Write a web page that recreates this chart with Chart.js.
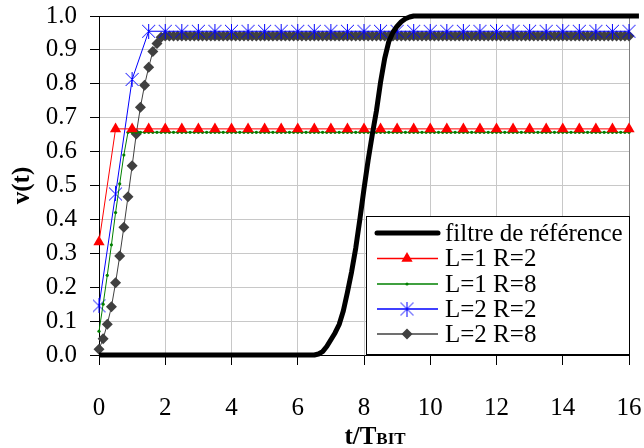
<!DOCTYPE html>
<html><head><meta charset="utf-8">
<script src="https://cdn.jsdelivr.net/npm/chart.js@4/dist/chart.umd.min.js"></script>
<style>html,body{margin:0;padding:0;background:#fff}</style>
</head><body><canvas id="c" width="644" height="448"></canvas>
<script>
// ---- DATA ----
const tFine = [
 0,0.125,0.25,0.375,0.5,0.625,0.75,0.875,
 1,1.125,1.25,1.375,1.5,1.625,1.75,1.875,
 2,2.125,2.25,2.375,2.5,2.625,2.75,2.875,
 3,3.125,3.25,3.375,3.5,3.625,3.75,3.875,
 4,4.125,4.25,4.375,4.5,4.625,4.75,4.875,
 5,5.125,5.25,5.375,5.5,5.625,5.75,5.875,
 6,6.125,6.25,6.375,6.5,6.625,6.75,6.875,
 7,7.125,7.25,7.375,7.5,7.625,7.75,7.875,
 8,8.125,8.25,8.375,8.5,8.625,8.75,8.875,
 9,9.125,9.25,9.375,9.5,9.625,9.75,9.875,
 10,10.125,10.25,10.375,10.5,10.625,10.75,10.875,
 11,11.125,11.25,11.375,11.5,11.625,11.75,11.875,
 12,12.125,12.25,12.375,12.5,12.625,12.75,12.875,
 13,13.125,13.25,13.375,13.5,13.625,13.75,13.875,
 14,14.125,14.25,14.375,14.5,14.625,14.75,14.875,
 15,15.125,15.25,15.375,15.5,15.625,15.75,15.875,
 16,16.125,16.25
];
const tHalf = [0,0.5,1,1.5,2,2.5,3,3.5,4,4.5,5,5.5,6,6.5,7,7.5,8,8.5,9,9.5,10,10.5,11,11.5,12,12.5,13,13.5,14,14.5,15,15.5,16];

const refT = [0,6.5,6.625,6.75,6.875,7,7.125,7.25,7.375,7.5,7.625,7.75,7.875,8,8.125,8.25,8.375,8.5,8.625,8.75,8.875,9,9.125,9.25,9.375,9.5,16.3];
const refV = [0,0,0.003,0.01,0.025,0.045,0.065,0.09,0.13,0.185,0.245,0.315,0.4,0.49,0.575,0.65,0.72,0.805,0.875,0.925,0.952,0.97,0.983,0.992,0.997,1,1];

const l1r2 = [0.333,
 0.667,0.667,0.667,0.667,0.667,0.667,0.667,0.667,
 0.667,0.667,0.667,0.667,0.667,0.667,0.667,0.667,
 0.667,0.667,0.667,0.667,0.667,0.667,0.667,0.667,
 0.667,0.667,0.667,0.667,0.667,0.667,0.667,0.667];

const l2r2 = [0.145,0.475,0.813,
 0.955,0.955,0.955,0.955,0.955,0.955,0.955,0.955,0.955,0.955,
 0.955,0.955,0.955,0.955,0.955,0.955,0.955,0.955,0.955,0.955,
 0.955,0.955,0.955,0.955,0.955,0.955,0.955,0.955,0.955,0.955];

const l1r8 = [
 0.07,0.15,0.235,0.325,0.42,0.505,0.59,0.657,
 0.657,0.657,0.657,0.657,0.657,0.657,0.657,0.657,
 0.657,0.657,0.657,0.657,0.657,0.657,0.657,0.657,
 0.657,0.657,0.657,0.657,0.657,0.657,0.657,0.657,
 0.657,0.657,0.657,0.657,0.657,0.657,0.657,0.657,
 0.657,0.657,0.657,0.657,0.657,0.657,0.657,0.657,
 0.657,0.657,0.657,0.657,0.657,0.657,0.657,0.657,
 0.657,0.657,0.657,0.657,0.657,0.657,0.657,0.657,
 0.657,0.657,0.657,0.657,0.657,0.657,0.657,0.657,
 0.657,0.657,0.657,0.657,0.657,0.657,0.657,0.657,
 0.657,0.657,0.657,0.657,0.657,0.657,0.657,0.657,
 0.657,0.657,0.657,0.657,0.657,0.657,0.657,0.657,
 0.657,0.657,0.657,0.657,0.657,0.657,0.657,0.657,
 0.657,0.657,0.657,0.657,0.657,0.657,0.657,0.657,
 0.657,0.657,0.657,0.657,0.657,0.657,0.657,0.657,
 0.657,0.657,0.657,0.657,0.657,0.657,0.657,0.657,
 0.657,0.657,0.657
];

const l2r8 = [
 0.017,0.048,0.091,0.142,0.213,0.292,0.377,0.467,
 0.558,0.652,0.731,0.796,0.849,0.895,0.919,0.937,
 0.941,0.941,0.941,0.941,0.941,0.941,0.941,0.941,
 0.941,0.941,0.941,0.941,0.941,0.941,0.941,0.941,
 0.941,0.941,0.941,0.941,0.941,0.941,0.941,0.941,
 0.941,0.941,0.941,0.941,0.941,0.941,0.941,0.941,
 0.941,0.941,0.941,0.941,0.941,0.941,0.941,0.941,
 0.941,0.941,0.941,0.941,0.941,0.941,0.941,0.941,
 0.941,0.941,0.941,0.941,0.941,0.941,0.941,0.941,
 0.941,0.941,0.941,0.941,0.941,0.941,0.941,0.941,
 0.941,0.941,0.941,0.941,0.941,0.941,0.941,0.941,
 0.941,0.941,0.941,0.941,0.941,0.941,0.941,0.941,
 0.941,0.941,0.941,0.941,0.941,0.941,0.941,0.941,
 0.941,0.941,0.941,0.941,0.941,0.941,0.941,0.941,
 0.941,0.941,0.941,0.941,0.941,0.941,0.941,0.941,
 0.941,0.941,0.941,0.941,0.941,0.941,0.941,0.941,
 0.941,0.941,0.941
];

const seriesNames = ['filtre de référence','L=1 R=2','L=1 R=8','L=2 R=2','L=2 R=8'];
const xTitleMain = 't/T';
const xTitleSub = 'BIT';
const yTitle = 'v(t)';

// ---- STYLE ----
const FONT = '"Liberation Serif", "Times New Roman", serif';
function starImg(){
  const c=document.createElement('canvas'); c.width=15; c.height=15;
  const g=c.getContext('2d'); g.strokeStyle='#0000ff'; g.lineWidth=1;
  g.beginPath(); g.moveTo(1,1); g.lineTo(14,14); g.moveTo(14,1); g.lineTo(1,14);
  g.moveTo(7.5,0); g.lineTo(7.5,15); g.stroke(); return c;
}
const STAR = starImg();
const pts = (xs, ys) => xs.map((x,i)=>({x:x, y:ys[i]}));
const CLIP = {left:6, top:10, right:14, bottom:6};

const datasets = [
  {label:seriesNames[0], data:pts(refT,refV), borderColor:'#000', borderWidth:5, pointRadius:0, tension:0, clip:CLIP, borderJoinStyle:'round'},
  {label:seriesNames[1], data:pts(tHalf,l1r2), borderColor:'#ff0000', backgroundColor:'#ff0000', borderWidth:1, pointStyle:'triangle', pointRadius:6.5, pointBorderWidth:0, tension:0, clip:CLIP},
  {label:seriesNames[2], data:pts(tFine,l1r8), borderColor:'#008000', backgroundColor:'#008000', borderWidth:1, pointStyle:'circle', pointRadius:1.6, pointBorderWidth:0, tension:0, clip:CLIP},
  {label:seriesNames[3], data:pts(tHalf,l2r2), borderColor:'#0000ff', backgroundColor:'#0000ff', borderWidth:1, pointStyle:STAR, pointRadius:7, tension:0, clip:CLIP},
  {label:seriesNames[4], data:pts(tFine,l2r8), borderColor:'#404040', backgroundColor:'#404040', borderWidth:1, pointStyle:'rectRot', pointRadius:5.5, pointBorderWidth:0, tension:0, clip:CLIP}
];

const overlay = {
  id:'overlay',
  afterDraw(chart){
    const g = chart.ctx;
    const L=366, T=216, R=630, B=355;
    g.save();
    g.fillStyle='#fff'; g.fillRect(L,T,R-L,B-T);
    g.strokeStyle='#000'; g.lineWidth=1; g.strokeRect(L+0.5,T+0.5,R-L-1,B-T-1);
    const rows=[233,258.5,284,309,334];
    const x0=377, x1=438, xm=407, xt=445;
    g.font='25px '+FONT; g.textBaseline='middle'; g.textAlign='left';
    chart.data.datasets.forEach((ds,i)=>{
      const y=rows[i];
      g.beginPath(); g.strokeStyle=ds.borderColor;
      g.lineWidth = i===0 ? 5 : 1.5; g.lineCap = i===0 ? 'round':'butt';
      g.moveTo(x0, y); g.lineTo(x1, y); g.stroke();
      if (i>0){
        g.fillStyle=ds.backgroundColor; g.strokeStyle=ds.borderColor;
        Chart.helpers.drawPoint(g, {pointStyle:ds.pointStyle, radius:ds.pointRadius, rotation:0, borderWidth:ds.pointBorderWidth===0?0:1}, xm, y);
      }
      g.fillStyle='#000'; g.fillText(ds.label, xt, y+1);
    });
    g.textBaseline='alphabetic';
    g.font='bold 25px '+FONT; const w1=g.measureText(xTitleMain).width;
    g.font='bold 17px '+FONT; const w2=g.measureText(xTitleSub).width;
    const sx = 375 - (w1+w2)/2, by = 444;
    g.font='bold 25px '+FONT; g.fillText(xTitleMain, sx, by);
    g.font='bold 17px '+FONT; g.fillText(xTitleSub, sx+w1, by);
    g.restore();
  }
};

new Chart(document.getElementById('c'), {
  type:'line',
  data:{datasets},
  plugins:[overlay],
  options:{
    responsive:false, animation:false,
    layout:{padding:{top:16, right:15, left:0, bottom:0}},
    plugins:{legend:{display:false}, tooltip:{enabled:false}},
    scales:{
      x:{type:'linear', min:0, max:16,
        ticks:{stepSize:2, color:'#000', font:{family:FONT, size:25, lineHeight:1}, padding:31, maxRotation:0},
        grid:{color:c=>c.tick && c.tick.value===16 ? '#808080' : '#c8c8c8', tickColor:'#000', tickLength:10, lineWidth:1},
        border:{color:'#000', width:1},
        afterFit:s=>{s.height=93; s.paddingLeft=0; s.paddingRight=0;}
      },
      y:{min:0, max:1,
        ticks:{stepSize:0.1, color:'#000', font:{family:FONT, size:25, lineHeight:1}, padding:13, callback:v=>Number(v).toFixed(1)},
        grid:{color:c=>c.tick && Math.abs(c.tick.value-1)<1e-6 ? '#000' : '#c8c8c8', tickColor:'#000', tickLength:9, lineWidth:1},
        border:{color:'#000', width:1},
        title:{display:true, text:yTitle, color:'#000', font:{family:FONT, size:25, weight:'bold'}, padding:{top:8, bottom:0}},
        afterFit:s=>{s.width=99; s.paddingTop=0; s.paddingBottom=0;}
      }
    }
  }
});
</script></body></html>
